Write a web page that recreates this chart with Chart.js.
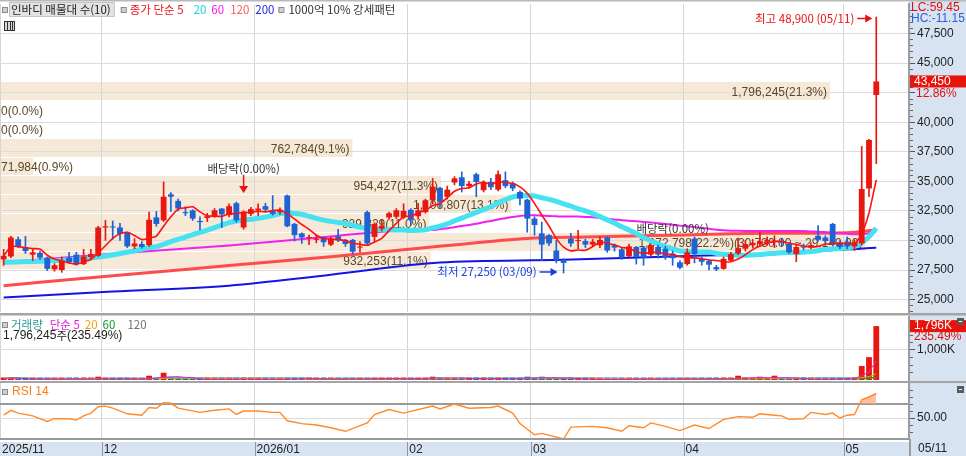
<!DOCTYPE html>
<html lang="ko">
<head>
<meta charset="utf-8">
<title>인바디 일봉 차트</title>
<script src="https://cdn.jsdelivr.net/npm/chart.js@4.4.1/dist/chart.umd.min.js"></script>
<style>
html,body{margin:0;padding:0;background:#fff;overflow:hidden;}
#wrap{position:relative;width:966px;height:456px;background:#fff;}
#wrap canvas{position:absolute;left:0;display:block;}
</style>
</head>
<body>
<div id="wrap">
  <canvas id="cPrice" width="966" height="316" style="top:0;width:966px;height:316px"></canvas>
  <canvas id="cVol" width="966" height="65" style="top:316px;width:966px;height:65px"></canvas>
  <canvas id="cRsi" width="966" height="75" style="top:381px;width:966px;height:75px"></canvas>
</div>
<script>
// ---------------- DATA ----------------
const dates = ['11/11','11/12','11/13','11/14','11/17','11/18','11/19','11/20','11/21','11/24','11/25','11/26','11/27','11/28',
'12/01','12/02','12/03','12/04','12/05','12/08','12/09','12/10','12/11','12/12','12/15','12/16','12/17','12/18','12/19','12/22','12/23','12/24','12/26','12/29','12/30',
'01/02','01/05','01/06','01/07','01/08','01/09','01/12','01/13','01/14','01/15','01/16','01/19','01/20','01/21','01/22','01/23','01/26','01/27','01/28','01/29','01/30',
'02/02','02/03','02/04','02/05','02/06','02/09','02/10','02/11','02/12','02/13','02/19','02/20','02/23','02/24','02/25','02/26','02/27',
'03/03','03/04','03/05','03/06','03/09','03/10','03/11','03/12','03/13','03/16','03/17','03/18','03/19','03/20','03/23','03/24','03/25','03/26','03/27','03/30','03/31',
'04/01','04/02','04/03','04/06','04/07','04/08','04/09','04/10','04/13','04/14','04/15','04/16','04/17','04/20','04/21','04/22','04/23','04/24','04/27','04/28','04/29','04/30',
'05/04','05/06','05/07','05/08','05/11'];

const opens = [28400,28650,30100,29450,28800,28950,28550,27550,27500,28550,28800,28000,28600,28700,
31100,31150,31100,30700,29500,29700,29600,31950,31700,33900,33350,32400,32550,31650,31900,32050,32700,32150,33150,31100,32250,
32550,32900,32550,32400,33800,31400,30600,30200,30050,30250,29650,30350,30050,30050,29400,32400,30300,31000,31950,32000,31950,
32600,32050,32400,33400,34450,33700,34900,35350,34600,35600,34250,34950,34300,35100,34850,34100,33450,
31850,30600,30450,29150,28300,30150,29950,29950,29650,29600,30250,29600,29250,28650,29450,29400,28800,29450,29300,28900,28150,
28000,30150,28450,28250,27750,27600,28300,28900,29300,29600,29700,29900,29900,29950,29700,28850,29500,29400,30400,30250,31400,29850,
29900,29500,29750,34400,42300];

const highs = [29250,30350,30300,30350,29300,29100,28600,28050,28600,29000,29000,29250,29250,31200,
31700,31650,31450,30700,30150,29900,32400,32450,34950,34050,33500,32850,32600,32000,32300,32700,32700,33100,33250,32500,32800,
33100,33150,33800,32750,33850,31450,30650,30450,30450,30300,30300,30950,30100,30100,29900,32500,31500,31700,32400,32700,33100,
32700,33150,33500,35250,34500,34600,35400,35800,35000,35700,35050,35250,35900,35800,34950,34200,33500,
32000,31550,30500,30000,28450,30600,30850,30100,30100,30300,30300,29700,29350,29700,29500,29500,29700,29600,29500,29100,28300,
29300,30300,28600,28350,27900,28600,29000,30200,30000,30100,30700,30300,30400,30200,29800,29600,29700,29800,31250,30400,31450,30000,
30300,30050,37950,38550,48900];

const lows = [27900,28550,29400,28900,28300,28400,27450,27400,27300,28050,27900,27950,28450,28650,
30000,30100,30000,29400,29300,29350,29500,31200,31600,32450,32500,32100,31700,30900,31600,31950,31100,32000,31550,30950,32100,
32100,32400,32150,32200,31150,29950,29750,29650,29800,29500,29550,29900,29500,28850,29000,29600,29900,30800,31800,31850,31850,
31300,31800,32300,33100,32800,33500,34700,34100,34400,33700,34100,34300,34200,34450,34200,33000,30700,
30450,28300,29550,28100,27250,29500,29300,29400,29500,29400,29000,29100,28400,28600,28000,27900,28700,28500,28400,27900,27600,
27900,28100,27900,27500,27450,27550,28200,28800,29100,29400,29500,29600,29400,29500,28900,28200,29200,29300,29950,29800,29600,29300,
29300,29150,29600,33700,36500];

const closes = [28700,30250,29500,29100,29000,28550,27600,27900,28300,28150,28000,28650,28850,31100,
31200,31100,30550,29500,29750,29450,31750,31400,33700,33700,32700,32300,31850,31550,32050,32550,32200,32900,31700,32450,32650,
32700,32600,32250,32600,31200,30450,30250,30200,30100,29850,30200,30000,29700,29050,29450,29750,31400,31250,32300,32550,32500,
31750,32550,33400,34550,33300,34300,35250,34600,34800,34950,34950,34500,35600,34600,34400,33550,31850,
31300,29650,29750,28350,28100,29750,30000,29650,29900,30050,29150,29400,28550,29500,28600,28550,29600,28800,28600,28500,27700,
29000,28850,28200,27950,27550,28450,28850,29350,29700,29800,29950,30050,30000,29800,29000,29450,29400,29600,30050,29950,29700,29450,
29500,29850,34350,38500,43450];

const volumes = [45000,80000,40000,35000,25000,30000,55000,30000,40000,25000,35000,30000,28000,110000,
60000,35000,30000,45000,25000,20000,143000,60000,243000,70000,40000,25000,30000,35000,20000,25000,30000,28000,45000,40000,25000,
30000,25000,35000,20000,80000,50000,30000,25000,20000,30000,35000,30000,25000,45000,30000,70000,60000,35000,40000,45000,50000,
50000,45000,55000,110000,60000,45000,55000,50000,35000,60000,40000,35000,71984,45000,40000,50000,110000,
60000,110000,45000,55000,60000,45000,30000,25000,20000,30000,40000,25000,35000,30000,35000,40000,30000,25000,30000,25000,35000,
40000,45000,25000,30000,40000,50000,40000,143000,40000,35000,110000,40000,143000,35000,45000,40000,25000,30000,45000,35000,60000,30000,
50000,90000,467000,762784,1796245];

// moving averages (only where the window history is outside the view)
const ma20SeedDates = ['11/11','11/20','11/28'];
const ma20SeedValues = [28150, 28300, 28600];
const ma60SeedDates = ['11/11','12/02','12/24','01/16','02/04'];
const ma60SeedValues = [28150, 28870, 29575, 30340, 30930];
const ma120Dates = ['11/11','12/02','12/24','01/16','02/09','02/27','03/12','03/30','04/16','05/04','05/11'];
const ma120Values = [26175, 27025, 27875, 28615, 29575, 30170, 30300, 30450, 30600, 30650, 30900];
const ma200Dates = ['11/11','12/02','12/24','01/16','02/06','03/09','03/30','04/20','05/11'];
const ma200Values = [25180, 25680, 26180, 27100, 28130, 28360, 28650, 28950, 29380];

// RSI(14)
const rsiDates = ['11/11','11/12','11/13','11/17','11/19','11/20','11/24','11/25','11/26','11/27','11/28','12/01','12/02','12/04','12/08','12/09','12/10','12/11','12/12','12/15','12/18','12/22','12/24','12/26','12/29',
'01/02','01/06','01/07','01/08','01/12','01/14','01/16','01/20','01/23','01/26','01/28','01/30','02/05','02/06','02/10','02/12','02/20','02/23','02/25','02/26','03/03','03/04','03/09','03/10','03/13','03/17','03/19','03/20','03/24','03/25','03/27','03/31',
'04/02','04/06','04/08','04/10','04/14','04/15','04/17','04/20','04/21','04/23','04/24','04/28','04/29','04/30','05/04','05/06','05/07','05/08','05/11'];
const rsiValues = [54,61,57,53,45,49,49,47,53,57,66,67,64,56,54,65,64,72,71,64,58,61,63,55,60,
60,58,58,46,42,40,36,31,43,55,62,57,67,63,70,64,65,67,57,42,26,28,20,37,38,36,31,39,36,43,38,32,
40,35,48,52,51,56,54,53,48,49,58,55,57,50,54,55,76,80,85];

// volume profile (매물대, 10 price bins by close, low -> high)
const profileVolumes = [932253, 1872798, 929329, 1106807, 954427, 71984, 762784, 0, 0, 1796245];

// ex-dividend events
const exDivDates = ['12/29', '03/30'];
const exDivRates = [0, 0];

// axis ticks
const yTicks = [25000, 27500, 30000, 32500, 35000, 37500, 40000, 42500, 45000, 47500];
const monthStartDates = ['11/11','12/01','01/02','02/02','03/03','04/01','05/04'];
const monthLabels = ['2025/11','12','2026/01','02','03','04','05'];
const lastDateLabel = '05/11';
const futureSlots = 4;
const rsiUpper = 70;
const volTicks = [1000000];
const rsiTicks = [50];

// ---------------- HELPERS ----------------
const FONT = '"Liberation Sans", "Noto Sans CJK KR", sans-serif';
const KFONT = '"Noto Sans CJK KR", "Liberation Sans", sans-serif';
const KSIZE = '11.5px ';
const UP = '#e8170f', DOWN = '#1f62d4';
const AXIS_BG = '#d7e3f1';
const AXIS_W = 57;
const fmt = v => Math.round(v).toLocaleString('en-US');
const fmt2 = v => v.toLocaleString('en-US', {minimumFractionDigits: 2, maximumFractionDigits: 2});

const N = closes.length;
const xLabels = dates.concat(Array(futureSlots).fill(''));
const monthIdx = monthStartDates.map(d => dates.indexOf(d));
const candleColors = closes.map((c, i) => c >= opens[i] ? UP : DOWN);

function sma(arr, n, i) { const s = Math.max(0, i - n + 1); let t = 0; for (let k = s; k <= i; k++) t += arr[k]; return t / (i - s + 1); }
function sparse(ds, vs) { const out = dates.map(() => null); ds.forEach((d, k) => { out[dates.indexOf(d)] = vs[k]; }); return out; }
function seeded(ds, vs, n) { const out = sparse(ds, vs); for (let i = n - 1; i < N; i++) out[i] = sma(closes, n, i); return out; }

const ma5 = closes.map((c, i) => sma(closes, 5, i));
const ma20 = seeded(ma20SeedDates, ma20SeedValues, 20);
const ma60 = seeded(ma60SeedDates, ma60SeedValues, 60);
const ma120 = sparse(ma120Dates, ma120Values);
const ma200 = sparse(ma200Dates, ma200Values);
const wick = lows.map((l, i) => [l, highs[i]]);
const body = opens.map((o, i) => [o, closes[i]]);
const vma = n => volumes.map((v, i) => sma(volumes, n, i));
const rsi = sparse(rsiDates, rsiValues);
const lastClose = closes[N - 1];

function monthGridColor(c) { return monthIdx.includes(c.index) ? '#d6d6d6' : 'rgba(0,0,0,0)'; }
function zeroPad(s) { s.paddingTop = 0; s.paddingBottom = 0; s.paddingLeft = 0; s.paddingRight = 0; }
const xHidden = {
  type: 'category', offset: true,
  grid: { offset: true, drawTicks: false, color: monthGridColor, lineWidth: 1 },
  border: { display: false },
  ticks: { display: false },
  afterFit(s) { s.height = 0; zeroPad(s); }
};
function yAxis(extra) {
  return Object.assign({
    position: 'right',
    afterFit(s) { s.width = AXIS_W; zeroPad(s); },
    ticks: { font: { family: FONT, size: 12 }, color: '#222', padding: 2 },
    grid: { color: '#dcdcdc', tickColor: '#555', tickLength: 6, drawTicks: true },
    border: { display: true, color: '#9c9c9c', width: 2 }
  }, extra);
}
const common = {
  responsive: false, animation: false, devicePixelRatio: 1,
  plugins: { legend: { display: false }, tooltip: { enabled: false } },
  events: []
};

function icon(ctx, x, y) {
  ctx.fillStyle = '#cfcfcf'; ctx.fillRect(x, y, 5, 5);
  ctx.strokeStyle = '#8a8a8a'; ctx.lineWidth = 1; ctx.strokeRect(x + 0.5, y + 0.5, 5, 5);
}
// parts: [text, colour, gapBefore]
function runs(ctx, x, y, parts) {
  parts.forEach(([t, c, g]) => { x += g || 0; ctx.fillStyle = c; ctx.fillText(t, x, y); x += ctx.measureText(t).width; });
  return x;
}
function arrowH(ctx, x1, x2, y, color) {
  ctx.strokeStyle = color; ctx.fillStyle = color; ctx.lineWidth = 1.5;
  ctx.beginPath(); ctx.moveTo(x1, y); ctx.lineTo(x2 - 5, y); ctx.stroke();
  ctx.beginPath(); ctx.moveTo(x2, y); ctx.lineTo(x2 - 7, y - 4); ctx.lineTo(x2 - 7, y + 4); ctx.closePath(); ctx.fill();
}
function arrowDown(ctx, x, y1, y2, color) {
  ctx.strokeStyle = color; ctx.fillStyle = color; ctx.lineWidth = 1.5;
  ctx.beginPath(); ctx.moveTo(x, y1); ctx.lineTo(x, y2 - 5); ctx.stroke();
  ctx.beginPath(); ctx.moveTo(x, y2); ctx.lineTo(x - 4.5, y2 - 7); ctx.lineTo(x + 4.5, y2 - 7); ctx.closePath(); ctx.fill();
}
function minorTicks(ctx, a, scale, values) {
  ctx.strokeStyle = '#666'; ctx.lineWidth = 1;
  values.forEach(v => { const y = Math.round(scale.getPixelForValue(v)) + 0.5; if (y < a.top || y > a.bottom) return; ctx.beginPath(); ctx.moveTo(a.right + 1, y); ctx.lineTo(a.right + 4, y); ctx.stroke(); });
}
function cornerIcon(ctx, x, y) {
  ctx.fillStyle = '#5a5a5a'; ctx.fillRect(x, y, 7, 7);
  ctx.fillStyle = '#fff'; ctx.fillRect(x + 2, y + 3, 3, 1);
}

// ---------------- PRICE PANEL ----------------
const profLo = Math.min(...closes), profHi = Math.max(...closes);
const profStep = (profHi - profLo) / profileVolumes.length;
const profMax = Math.max(...profileVolumes);
const profTotal = profileVolumes.reduce((s, v) => s + v, 0);

const pricePlugin = {
  id: 'pricePlugin',
  beforeDraw(chart) {
    const { ctx, chartArea: a, scales: { y } } = chart;
    ctx.save();
    ctx.fillStyle = AXIS_BG; ctx.fillRect(a.right, 0, chart.width - a.right, chart.height);
    ctx.fillStyle = '#f6e9d7';
    profileVolumes.forEach((v, k) => {
      if (!v) return;
      const yTop = y.getPixelForValue(profLo + (k + 1) * profStep);
      const yBot = y.getPixelForValue(profLo + k * profStep);
      const w = v / profMax * 0.952 * (a.right - a.left);
      ctx.fillRect(a.left, Math.round(yTop) + 1, w, Math.round(yBot) - Math.round(yTop) - 1);
    });
    ctx.restore();
  },
  beforeDatasetsDraw(chart) {
    const { ctx, chartArea: a, scales: { y } } = chart;
    ctx.save();
    ctx.font = '12px ' + FONT; ctx.fillStyle = '#5a4826'; ctx.textBaseline = 'middle'; ctx.textAlign = 'left';
    profileVolumes.forEach((v, k) => {
      const hiV = profLo + (k + 1) * profStep, loV = profLo + k * profStep;
      const yc = (y.getPixelForValue(hiV) + y.getPixelForValue(loV)) / 2 + 2;
      let txt = fmt(v) + '(' + (v / profTotal * 100).toFixed(1) + '%)';
      if (v === profMax) txt += '(' + fmt2(hiV) + ' ~ ' + fmt2(loV) + ')';
      const w = v / profMax * 0.952 * (a.right - a.left);
      let xl = a.left + w - 3 - ctx.measureText(txt).width;
      if (xl < a.left + 1) xl = a.left + 1;
      ctx.fillText(txt, xl, yc);
    });
    ctx.restore();
  },
  afterDraw(chart) {
    const { ctx, chartArea: a, scales: { x, y } } = chart;
    ctx.save();
    // borders
    ctx.fillStyle = '#b9b9b9'; ctx.fillRect(0, 0, chart.width, 1.5);
    ctx.fillStyle = '#a4a4a4'; ctx.fillRect(0, 313, chart.width, 2.5);
    // minor ticks
    const minors = []; for (let v = 24000; v <= 49500; v += 500) if (v % 2500) minors.push(v);
    minorTicks(ctx, a, y, minors);

    ctx.textBaseline = 'middle'; ctx.textAlign = 'left';
    // legend line 1
    ctx.font = KSIZE + KFONT;
    icon(ctx, 2, 7);
    const t1 = '인바디 매물대 수(10)';
    const w1 = ctx.measureText(t1).width;
    ctx.fillStyle = '#e3e3e3'; ctx.fillRect(9, 2, w1 + 6, 15);
    ctx.strokeStyle = '#c4c4c4'; ctx.lineWidth = 1; ctx.strokeRect(9.5, 2.5, w1 + 5, 14);
    ctx.fillStyle = '#222'; ctx.fillText(t1, 11, 10);
    let cx = 9 + w1 + 6 + 6;
    icon(ctx, cx, 7); cx += 9;
    cx = runs(ctx, cx, 10, [['종가 단순 5', '#f01414'], ['20', '#12d6e6', 10], ['60', '#f01cf0', 5], ['120', '#ff5a5a', 6], ['200', '#2424ee', 6]]);
    cx += 4; icon(ctx, cx, 7); cx += 10;
    runs(ctx, cx, 10, [['1000억 10% 강세패턴', '#333']]);
    // legend line 2: table icon
    ctx.fillStyle = '#d8d8d8'; ctx.fillRect(4, 21, 11, 10);
    ctx.strokeStyle = '#333'; ctx.strokeRect(4.5, 21.5, 10, 9);
    ctx.beginPath(); [7.5, 10.5, 12.5].forEach(xx => { ctx.moveTo(xx, 22); ctx.lineTo(xx, 30); }); ctx.stroke();

    // LC / HC
    const last = closes[N - 1], prev = closes[N - 2];
    const minLow = Math.min(...lows), maxHigh = Math.max(...highs);
    ctx.font = '12px ' + FONT;
    ctx.fillStyle = '#e01010'; ctx.fillText('LC:' + ((last / minLow - 1) * 100).toFixed(2), a.right + 2, 8);
    ctx.fillStyle = '#2a5fd8'; ctx.fillText('HC:' + ((last / maxHigh - 1) * 100).toFixed(2), a.right + 2, 19);
    // current price box
    const py = y.getPixelForValue(last);
    ctx.fillStyle = '#e8140c'; ctx.fillRect(a.right + 1, py - 6, chart.width - a.right, 12);
    ctx.fillStyle = '#fff'; ctx.fillText(fmt(last), a.right + 5, py);
    ctx.fillStyle = '#e01010'; ctx.fillText(((last / prev - 1) * 100).toFixed(2) + '%', a.right + 7, py + 12);

    // highest / lowest annotation
    const iH = highs.indexOf(maxHigh), iL = lows.indexOf(minLow);
    ctx.font = KSIZE + KFONT;
    let hx = x.getPixelForValue(iH), hy = y.getPixelForValue(maxHigh) + 1.5;
    arrowH(ctx, hx - 19, hx - 4, hy, '#e81010');
    ctx.textAlign = 'right'; ctx.fillStyle = '#e81010';
    ctx.fillText('최고 ' + fmt(maxHigh) + ' (' + dates[iH] + ')', hx - 22, hy);
    let lx = x.getPixelForValue(iL), ly = y.getPixelForValue(minLow) - 1;
    arrowH(ctx, lx - 24, lx - 6, ly, '#1a3ce0');
    ctx.fillStyle = '#1a3ce0';
    ctx.fillText('최저 ' + fmt(minLow) + ' (' + dates[iL] + ')', lx - 27, ly);

    // ex-dividend
    ctx.textAlign = 'center';
    exDivDates.forEach((d, k) => {
      const i = dates.indexOf(d);
      const ex = x.getPixelForValue(i), ey = y.getPixelForValue(highs[i]);
      const label = '배당락(' + exDivRates[k].toFixed(2) + '%)';
      ctx.fillStyle = '#333';
      if (k === 0) {
        arrowDown(ctx, ex, ey - 36, ey - 18, '#e81010');
        ctx.fillStyle = '#333'; ctx.fillText(label, ex, ey - 42);
      } else {
        ctx.fillText(label, ex, ey - 22);
      }
    });
    ctx.restore();
  }
};

new Chart(document.getElementById('cPrice'), {
  type: 'bar',
  data: {
    labels: xLabels,
    datasets: [
      { type: 'line', label: '200', data: ma200, borderColor: '#1414e6', borderWidth: 2, pointRadius: 0, spanGaps: true, cubicInterpolationMode: 'monotone', order: 9 },
      { type: 'line', label: '120', data: ma120, borderColor: '#ff4b4b', borderWidth: 3, pointRadius: 0, spanGaps: true, cubicInterpolationMode: 'monotone', order: 8 },
      { type: 'line', label: '60', data: ma60, borderColor: '#f020f0', borderWidth: 2, pointRadius: 0, spanGaps: true, cubicInterpolationMode: 'monotone', order: 7 },
      { type: 'line', label: '20', data: ma20, borderColor: '#45e2f2', borderWidth: 5, pointRadius: 0, spanGaps: true, cubicInterpolationMode: 'monotone', order: 6 },
      { type: 'bar', label: 'wick', data: wick, backgroundColor: candleColors, barThickness: 1, grouped: false, order: 4 },
      { type: 'bar', label: 'body', data: body, backgroundColor: candleColors, barPercentage: 0.8, categoryPercentage: 1, grouped: false, minBarLength: 1, order: 3 },
      { type: 'line', label: '5', data: ma5, borderColor: '#ff1010', borderWidth: 1.6, pointRadius: 0, tension: 0.2, order: 1 }
    ]
  },
  options: Object.assign({}, common, {
    layout: { padding: { top: 4, bottom: 4, left: 0, right: 0 } },
    scales: {
      x: xHidden,
      y: yAxis({
        min: 23950, max: 50000,
        afterBuildTicks(s) { s.ticks = yTicks.map(v => ({ value: v })); },
        ticks: { font: { family: FONT, size: 12 }, color: '#222', padding: 2,
          callback: v => Math.abs(v - lastClose) < 1500 ? '' : fmt(v) }
      })
    }
  }),
  plugins: [pricePlugin]
});

// ---------------- VOLUME PANEL ----------------
const volPlugin = {
  id: 'volPlugin',
  beforeDraw(chart) {
    const { ctx, chartArea: a } = chart;
    ctx.fillStyle = AXIS_BG; ctx.fillRect(a.right, 0, chart.width - a.right, chart.height);
  },
  afterDraw(chart) {
    const { ctx, chartArea: a, scales: { y } } = chart;
    ctx.save();
    const minors = []; for (let v = 250000; v <= 2000000; v += 250000) if (v !== 1000000) minors.push(v);
    minorTicks(ctx, a, y, minors);
    ctx.textBaseline = 'middle'; ctx.textAlign = 'left';
    ctx.font = KSIZE + KFONT;
    icon(ctx, 2, 6);
    runs(ctx, 11, 8.5, [['거래량', '#2a9a9a'], ['단순 5', '#e020e0', 7], ['20', '#f0a000', 5], ['60', '#109a30', 5], ['120', '#707070', 12]]);
    const lastV = volumes[N - 1], prevV = volumes[N - 2];
    const ratio = (lastV / prevV * 100).toFixed(2) + '%';
    ctx.font = '12px ' + FONT;
    ctx.fillStyle = '#222';
    let tx = 3;
    ctx.fillText(fmt(lastV), tx, 20); tx += ctx.measureText(fmt(lastV)).width;
    ctx.font = KSIZE + KFONT; ctx.fillText('주', tx, 20); tx += ctx.measureText('주').width;
    ctx.font = '12px ' + FONT; ctx.fillText('(' + ratio + ')', tx, 20);
    const vy = y.getPixelForValue(lastV);
    ctx.fillStyle = '#e8140c'; ctx.fillRect(a.right + 1, vy - 6, chart.width - a.right, 12);
    ctx.fillStyle = '#fff'; ctx.fillText(fmt(lastV / 1000) + 'K', a.right + 5, vy);
    ctx.fillStyle = '#e01010'; ctx.fillText(ratio, a.right + 5, vy + 11);
    cornerIcon(ctx, chart.width - 9, 2);
    ctx.restore();
  }
};

new Chart(document.getElementById('cVol'), {
  type: 'bar',
  data: {
    labels: xLabels,
    datasets: [
      { type: 'line', data: vma(5), borderColor: '#e020e0', borderWidth: 1, pointRadius: 0, order: 1 },
      { type: 'line', data: vma(20), borderColor: '#f0a000', borderWidth: 1, pointRadius: 0, order: 2 },
      { type: 'line', data: vma(60), borderColor: '#109a30', borderWidth: 1.5, pointRadius: 0, order: 3 },
      { type: 'line', data: vma(120), borderColor: '#8c8c8c', borderWidth: 1, pointRadius: 0, order: 4 },
      { type: 'bar', data: volumes, backgroundColor: candleColors, barPercentage: 0.8, categoryPercentage: 1, minBarLength: 2.5, order: 5 }
    ]
  },
  options: Object.assign({}, common, {
    layout: { padding: { top: 0, bottom: 1, left: 0, right: 0 } },
    scales: {
      x: xHidden,
      y: yAxis({
        min: 0, max: 2133000,
        afterBuildTicks(s) { s.ticks = volTicks.map(v => ({ value: v })); },
        ticks: { font: { family: FONT, size: 12 }, color: '#222', padding: 2, callback: v => fmt(v / 1000) + 'K' }
      })
    }
  }),
  plugins: [volPlugin]
});

// ---------------- RSI PANEL ----------------
const rsiPlugin = {
  id: 'rsiPlugin',
  beforeDraw(chart) {
    const { ctx, chartArea: a } = chart;
    ctx.save();
    ctx.fillStyle = AXIS_BG; ctx.fillRect(a.right, 0, chart.width - a.right, chart.height);
    ctx.fillRect(0, a.bottom + 3, chart.width, chart.height - a.bottom - 3);
    ctx.restore();
  },
  beforeDatasetsDraw(chart) {
    const { ctx, chartArea: a, scales: { y } } = chart;
    const yy = Math.round(y.getPixelForValue(rsiUpper));
    ctx.fillStyle = '#9a9a9a'; ctx.fillRect(a.left, yy - 1, a.right - a.left, 2);
  },
  afterDraw(chart) {
    const { ctx, chartArea: a, scales: { x, y } } = chart;
    ctx.save();
    ctx.fillStyle = '#a4a4a4'; ctx.fillRect(0, 0, chart.width, 2);
    ctx.fillStyle = '#9a9a9a'; ctx.fillRect(a.left, a.bottom - 1, a.right - a.left, 2);
    const minors = []; for (let v = 30; v <= 90; v += 10) if (v !== 50) minors.push(v);
    minorTicks(ctx, a, y, minors);
    // strip separators
    ctx.strokeStyle = '#8c98a8'; ctx.lineWidth = 1;
    monthIdx.forEach(i => {
      if (i <= 0) return;
      const bx = Math.round((x.getPixelForValue(i) + x.getPixelForValue(i - 1)) / 2) + 0.5;
      ctx.beginPath(); ctx.moveTo(bx, a.bottom + 3); ctx.lineTo(bx, chart.height); ctx.stroke();
    });
    ctx.fillStyle = '#9c9c9c'; ctx.fillRect(a.right, a.bottom, 2, chart.height - a.bottom);
    ctx.textBaseline = 'middle'; ctx.textAlign = 'left';
    ctx.font = '12px ' + FONT; ctx.fillStyle = '#222';
    ctx.fillText(lastDateLabel, a.right + 9, chart.height - 7.5);
    icon(ctx, 2, 8);
    ctx.fillStyle = '#ff7a1a'; ctx.fillText('RSI 14', 12, 10.5);
    cornerIcon(ctx, chart.width - 9, 5);
    ctx.restore();
  }
};

new Chart(document.getElementById('cRsi'), {
  type: 'line',
  data: {
    labels: xLabels,
    datasets: [{
      data: rsi, borderColor: '#ff8a2a', borderWidth: 1.4, pointRadius: 0, spanGaps: true, tension: 0,
      fill: { target: { value: rsiUpper }, above: 'rgba(255,160,110,0.65)', below: 'rgba(0,0,0,0)' }
    }]
  },
  options: Object.assign({}, common, {
    layout: { padding: { top: 2, bottom: 0, left: 0, right: 0 } },
    scales: {
      x: {
        type: 'category', offset: true,
        grid: { offset: true, drawTicks: false, color: monthGridColor },
        border: { display: false },
        afterFit(s) { s.height = 17; zeroPad(s); },
        ticks: {
          autoSkip: false, maxRotation: 0, minRotation: 0, align: 'start', labelOffset: -1.6, padding: 3,
          font: { family: FONT, size: 12 }, color: '#222',
          callback: (v, i) => { const k = monthIdx.indexOf(i); return k >= 0 ? monthLabels[k] : ''; }
        }
      },
      y: yAxis({
        min: 20, max: 100,
        afterBuildTicks(s) { s.ticks = rsiTicks.map(v => ({ value: v })); },
        ticks: { font: { family: FONT, size: 12 }, color: '#222', padding: 2, callback: v => v.toFixed(2) }
      })
    }
  }),
  plugins: [rsiPlugin]
});
</script>
</body>
</html>
